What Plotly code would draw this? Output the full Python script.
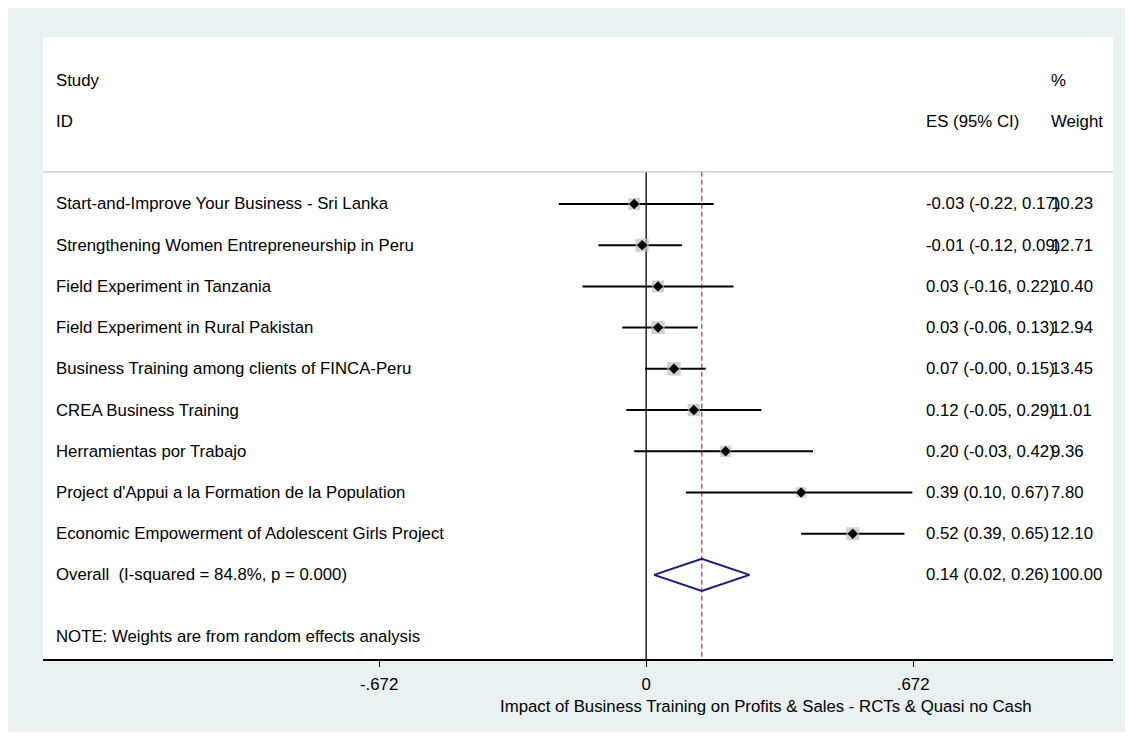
import plotly.graph_objects as go
import math

studies = [
    "Start-and-Improve Your Business - Sri Lanka",
    "Strengthening Women Entrepreneurship in Peru",
    "Field Experiment in Tanzania",
    "Field Experiment in Rural Pakistan",
    "Business Training among clients of FINCA-Peru",
    "CREA Business Training",
    "Herramientas por Trabajo",
    "Project d'Appui a la Formation de la Population",
    "Economic Empowerment of Adolescent Girls Project",
]
es = [-0.03, -0.01, 0.03, 0.03, 0.07, 0.12, 0.20, 0.39, 0.52]
ci_lo = [-0.22, -0.12, -0.16, -0.06, -0.003, -0.05, -0.03, 0.10, 0.39]
ci_hi = [0.17, 0.09, 0.22, 0.13, 0.15, 0.29, 0.42, 0.67, 0.65]
weights = [10.23, 12.71, 10.40, 12.94, 13.45, 11.01, 9.36, 7.80, 12.10]

overall_label = "Overall  (I-squared = 84.8%, p = 0.000)"
overall_es, overall_lo, overall_hi, overall_w = 0.14, 0.02, 0.26, 100.00

tick_vals = [-0.672, 0, 0.672]
tick_text = ["-.672", "0", ".672"]
x_title = "Impact of Business Training on Profits & Sales - RCTs & Quasi no Cash"
note = "NOTE: Weights are from random effects analysis"

FONT = "Arial, 'Liberation Sans', sans-serif"
FS = 16.8
rows = list(range(1, len(studies) + 1))
overall_row = len(studies) + 1
note_row = overall_row + 1.5
top_line = 0.22
y_bottom = 12.04
y_top = -3.05

fig = go.Figure()

# reference lines
fig.add_trace(go.Scatter(x=[0, 0], y=[top_line, y_bottom], mode="lines",
                         line=dict(color="black", width=1.3), hoverinfo="skip"))
fig.add_trace(go.Scatter(x=[overall_es, overall_es], y=[top_line, y_bottom], mode="lines",
                         line=dict(color="#B24A56", width=1.3, dash="5px,3px"), hoverinfo="skip"))

# CI lines
for r, lo, hi in zip(rows, ci_lo, ci_hi):
    fig.add_trace(go.Scatter(x=[lo, hi], y=[r, r], mode="lines",
                             line=dict(color="black", width=2), hoverinfo="skip"))

# weight boxes
fig.add_trace(go.Scatter(x=es, y=rows, mode="markers",
                         marker=dict(symbol="square", color="#BEBEBE",
                                     size=[3.7 * math.sqrt(w) for w in weights],
                                     line=dict(width=0))))
# point estimates
fig.add_trace(go.Scatter(x=es, y=rows, mode="markers",
                         marker=dict(symbol="diamond", color="black", size=8, line=dict(width=0))))

# overall diamond
h = 0.39
fig.add_trace(go.Scatter(
    x=[overall_lo, overall_es, overall_hi, overall_es, overall_lo],
    y=[overall_row, overall_row - h, overall_row, overall_row + h, overall_row],
    mode="lines", line=dict(color="#1A1A78", width=2), hoverinfo="skip"))

# header separator
fig.add_shape(type="line", xref="paper", yref="y", x0=0, x1=1, y0=top_line, y1=top_line,
              line=dict(color="#C4C4C4", width=1.2))

X_LABEL = 0.0105
X_ES = 0.8235
X_W = 0.9400

def ann(x, y, text):
    fig.add_annotation(x=x, y=y, xref="paper", yref="y", text=text, showarrow=False,
                       xanchor="left", yanchor="middle",
                       font=dict(family=FONT, size=FS, color="black"))

ann(X_LABEL, -2, "Study")
ann(X_LABEL, -1, "ID")
ann(X_W, -2, "%")
ann(X_ES, -1, "ES (95% CI)")
ann(X_W, -1, "Weight")

for r, s, e, lo, hi, w in zip(rows, studies, es, ci_lo, ci_hi, weights):
    ann(X_LABEL, r, s)
    ann(X_ES, r, f"{e:.2f} ({lo:.2f}, {hi:.2f})")
    ann(X_W, r, f"{w:.2f}")

ann(X_LABEL, overall_row, overall_label)
ann(X_ES, overall_row, f"{overall_es:.2f} ({overall_lo:.2f}, {overall_hi:.2f})")
ann(X_W, overall_row, f"{overall_w:.2f}")
ann(X_LABEL, note_row, note)

fig.add_annotation(x=0.676, y=-0.0756, xref="paper", yref="paper", text=x_title,
                   showarrow=False, xanchor="center", yanchor="middle",
                   font=dict(family=FONT, size=FS, color="black"))

fig.update_layout(
    width=1125, height=724,
    margin=dict(l=35, r=20, t=29, b=73),
    paper_bgcolor="#EAF1F3", plot_bgcolor="white",
    showlegend=False,
    font=dict(family=FONT, size=FS, color="black"),
    xaxis=dict(range=[-1.518, 1.175], tickvals=tick_vals, ticktext=tick_text,
               ticks="outside", ticklen=6, tickcolor="black", tickwidth=1.3,
               showline=True, linecolor="black", linewidth=1.5,
               showgrid=False, zeroline=False, ticklabelstandoff=3,
               tickfont=dict(family=FONT, size=FS, color="black")),
    yaxis=dict(range=[y_bottom, y_top], visible=False, showgrid=False, zeroline=False),
)

fig.write_html("out.html")
